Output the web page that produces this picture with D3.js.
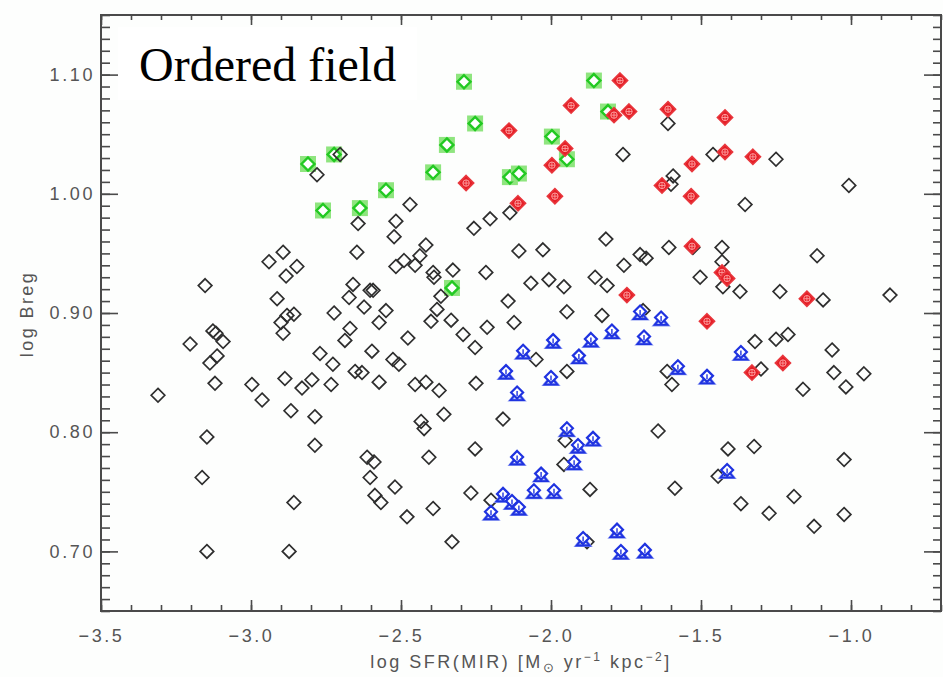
<!DOCTYPE html>
<html>
<head>
<meta charset="utf-8">
<script src="https://cdn.jsdelivr.net/npm/d3@7"></script>
<style>
  body { margin: 0; background: #fff; }
  svg { display: block; }
</style>
</head>
<body>
<div id="wrapper"></div>
<script>
// Data: [log SFR(MIR), log Breg]
const otherPoints = [
  [-3.31, 0.831], [-3.153, 0.923], [-3.203, 0.874], [-3.127, 0.885], [-3.117, 0.883],
  [-3.093, 0.876], [-3.113, 0.864], [-3.137, 0.858], [-3.12, 0.841], [-3.147, 0.796],
  [-3.163, 0.762], [-3.147, 0.700], [-2.997, 0.840], [-2.963, 0.827], [-2.94, 0.943],
  [-2.893, 0.951], [-2.847, 0.939], [-2.883, 0.931], [-2.913, 0.912], [-2.90, 0.892],
  [-2.88, 0.898], [-2.857, 0.899], [-2.893, 0.883], [-2.887, 0.845], [-2.867, 0.818],
  [-2.857, 0.741], [-2.873, 0.700], [-2.83, 0.837], [-2.797, 0.844], [-2.787, 0.813],
  [-2.787, 0.789], [-2.78, 1.016], [-2.77, 0.866], [-2.727, 0.857], [-2.733, 0.840],
  [-2.723, 0.900], [-2.703, 1.033], [-2.687, 0.877], [-2.67, 0.887], [-2.673, 0.913],
  [-2.66, 0.924], [-2.653, 0.851], [-2.63, 0.850], [-2.647, 0.951], [-2.643, 0.975],
  [-2.623, 0.905], [-2.603, 0.919], [-2.593, 0.919], [-2.597, 0.868], [-2.573, 0.892],
  [-2.573, 0.842], [-2.55, 0.902], [-2.613, 0.779], [-2.59, 0.775], [-2.603, 0.762],
  [-2.587, 0.747], [-2.567, 0.741], [-2.52, 0.754], [-2.527, 0.861], [-2.507, 0.857],
  [-2.523, 0.964], [-2.517, 0.977], [-2.517, 0.939], [-2.49, 0.944], [-2.47, 0.991],
  [-2.477, 0.879], [-2.48, 0.729], [-2.453, 0.840], [-2.453, 0.940], [-2.437, 0.948],
  [-2.417, 0.957], [-2.417, 0.842], [-2.393, 0.934], [-2.39, 0.930], [-2.40, 0.893],
  [-2.38, 0.903], [-2.373, 0.835], [-2.367, 0.914], [-2.357, 0.815], [-2.433, 0.809],
  [-2.423, 0.803], [-2.407, 0.779], [-2.393, 0.736], [-2.33, 0.708], [-2.327, 0.936],
  [-2.333, 0.894], [-2.293, 0.882], [-2.257, 0.971], [-2.253, 0.871], [-2.25, 0.841],
  [-2.253, 0.786], [-2.267, 0.749], [-2.217, 0.934], [-2.213, 0.888], [-2.203, 0.979],
  [-2.20, 0.743], [-2.16, 0.811], [-2.143, 0.910], [-2.137, 0.984], [-2.123, 0.892],
  [-2.107, 0.952], [-2.067, 0.925], [-2.05, 0.861], [-2.027, 0.953], [-2.007, 0.928],
  [-1.957, 0.922], [-1.947, 0.901], [-1.947, 0.851], [-1.953, 0.793], [-1.957, 0.773],
  [-1.88, 0.708], [-1.87, 0.752], [-1.853, 0.930], [-1.83, 0.898], [-1.817, 0.962],
  [-1.813, 0.923], [-1.76, 1.033], [-1.757, 0.940], [-1.703, 0.949], [-1.683, 0.946],
  [-1.693, 0.902], [-1.643, 0.801], [-1.613, 0.851], [-1.61, 1.059], [-1.607, 0.955],
  [-1.597, 0.840], [-1.593, 1.015], [-1.60, 1.008], [-1.587, 0.753], [-1.527, 0.955],
  [-1.503, 0.930], [-1.46, 1.033], [-1.443, 0.763], [-1.43, 0.955], [-1.43, 0.943],
  [-1.427, 0.922], [-1.41, 0.786], [-1.37, 0.918], [-1.367, 0.740], [-1.353, 0.991],
  [-1.323, 0.788], [-1.32, 0.876], [-1.30, 0.853], [-1.273, 0.732], [-1.25, 1.029],
  [-1.25, 0.878], [-1.237, 0.918], [-1.21, 0.882], [-1.19, 0.746], [-1.16, 0.836],
  [-1.123, 0.721], [-1.113, 0.948], [-1.093, 0.911], [-1.063, 0.869], [-1.057, 0.850],
  [-1.023, 0.777], [-1.023, 0.731], [-1.017, 0.838], [-1.007, 1.007], [-0.957, 0.849],
  [-0.87, 0.915]
];

const greenPoints = [
  [-2.81, 1.025], [-2.723, 1.033], [-2.76, 0.986], [-2.637, 0.988], [-2.55, 1.003],
  [-2.393, 1.018], [-2.347, 1.041], [-2.29, 1.094], [-2.253, 1.059], [-2.33, 0.921],
  [-1.857, 1.095], [-1.81, 1.069], [-1.997, 1.048], [-1.947, 1.029], [-2.137, 1.014],
  [-2.107, 1.017]
];

const redPoints = [
  [-1.77, 1.095], [-1.933, 1.074], [-1.74, 1.069], [-1.79, 1.066], [-1.61, 1.071],
  [-1.42, 1.064], [-2.14, 1.053], [-1.953, 1.038], [-1.997, 1.024], [-2.283, 1.009],
  [-2.11, 0.992], [-1.987, 0.998], [-1.42, 1.035], [-1.327, 1.031], [-1.53, 1.025],
  [-1.63, 1.007], [-1.533, 0.998], [-1.53, 0.956], [-1.43, 0.934], [-1.413, 0.929],
  [-1.747, 0.915], [-1.48, 0.893], [-1.147, 0.912], [-1.33, 0.850], [-1.227, 0.858]
];

const bluePoints = [
  [-2.20, 0.732], [-2.16, 0.747], [-2.15, 0.850], [-2.13, 0.741], [-2.113, 0.832],
  [-2.113, 0.778], [-2.107, 0.736], [-2.093, 0.867], [-2.057, 0.750], [-2.033, 0.764],
  [-2.00, 0.845], [-1.993, 0.876], [-1.99, 0.750], [-1.947, 0.802], [-1.923, 0.774],
  [-1.91, 0.788], [-1.907, 0.863], [-1.893, 0.710], [-1.867, 0.877], [-1.86, 0.794],
  [-1.797, 0.884], [-1.78, 0.717], [-1.767, 0.699], [-1.703, 0.900], [-1.69, 0.879],
  [-1.687, 0.700], [-1.633, 0.895], [-1.577, 0.854], [-1.48, 0.846], [-1.413, 0.767],
  [-1.367, 0.866]
];

const xMajorTicks = [-3.5, -3.0, -2.5, -2.0, -1.5, -1.0];
const yMajorTicks = [0.70, 0.80, 0.90, 1.00, 1.10];
const titleText = "Ordered field";
const yTitle = "log Breg";

const drawChart = () => {
    const dimensions = {
        width: 943,
        height: 677,
        left: 101,
        right: 941,
        top: 15,
        bottom: 611,
    };

    const wrapper = d3.select("#wrapper")
        .append("svg")
        .attr("width", dimensions.width)
        .attr("height", dimensions.height);

    wrapper.append("rect")
        .attr("width", dimensions.width)
        .attr("height", dimensions.height)
        .attr("fill", "#fdfefd");

    // Scales
    const xScale = d3.scaleLinear()
        .domain([-3.5, -0.7])
        .range([dimensions.left, dimensions.right]);
    const yScale = d3.scaleLinear()
        .domain([0.65, 1.15])
        .range([dimensions.bottom, dimensions.top]);

    const axisColor = "#4a4a4a";
    const labelFont = "'Liberation Sans', Arial, sans-serif";

    const styleAxis = (g) => {
        g.select(".domain").remove();
        g.selectAll(".tick line").attr("stroke", axisColor).attr("stroke-width", 1.6);
        g.selectAll(".tick text")
            .attr("fill", "#555")
            .style("font-family", labelFont)
            .style("font-size", "18px")
            .style("letter-spacing", "2.6px");
    };

    // Minor ticks (all four sides)
    const minorX = xScale.ticks(28);
    const minorY = yScale.ticks(50);
    wrapper.append("g")
        .attr("transform", `translate(0,${dimensions.bottom})`)
        .call(d3.axisBottom(xScale).tickValues(minorX).tickSize(-6).tickFormat(""))
        .call(styleAxis);
    wrapper.append("g")
        .attr("transform", `translate(0,${dimensions.top})`)
        .call(d3.axisTop(xScale).tickValues(minorX).tickSize(-5).tickFormat(""))
        .call(styleAxis);
    wrapper.append("g")
        .attr("transform", `translate(${dimensions.left},0)`)
        .call(d3.axisLeft(yScale).tickValues(minorY).tickSize(-9).tickFormat(""))
        .call(styleAxis);
    wrapper.append("g")
        .attr("transform", `translate(${dimensions.right},0)`)
        .call(d3.axisRight(yScale).tickValues(minorY).tickSize(-8).tickFormat(""))
        .call(styleAxis);

    // Major ticks
    wrapper.append("g")
        .attr("transform", `translate(0,${dimensions.bottom})`)
        .call(d3.axisBottom(xScale).tickValues(xMajorTicks).tickSize(-11).tickPadding(18)
            .tickFormat(d3.format(".1f")))
        .call(styleAxis);
    wrapper.append("g")
        .attr("transform", `translate(0,${dimensions.top})`)
        .call(d3.axisTop(xScale).tickValues(xMajorTicks).tickSize(-10).tickFormat(""))
        .call(styleAxis);
    wrapper.append("g")
        .attr("transform", `translate(${dimensions.left},0)`)
        .call(d3.axisLeft(yScale).tickValues(yMajorTicks).tickSize(-17).tickPadding(6)
            .tickFormat(d3.format(".2f")))
        .call(styleAxis);
    wrapper.append("g")
        .attr("transform", `translate(${dimensions.right},0)`)
        .call(d3.axisRight(yScale).tickValues(yMajorTicks).tickSize(-17).tickFormat(""))
        .call(styleAxis);

    // Frame
    wrapper.append("rect")
        .attr("x", dimensions.left)
        .attr("y", dimensions.top)
        .attr("width", dimensions.right - dimensions.left)
        .attr("height", dimensions.bottom - dimensions.top)
        .attr("fill", "none")
        .attr("stroke", axisColor)
        .attr("stroke-width", 2);

    // Title box
    wrapper.append("rect")
        .attr("x", 118).attr("y", 27)
        .attr("width", 299).attr("height", 73)
        .attr("fill", "#ffffff");
    wrapper.append("text")
        .attr("x", 139).attr("y", 81)
        .attr("fill", "#000")
        .style("font-family", "'Liberation Serif', 'Times New Roman', serif")
        .style("font-size", "48px")
        .text(titleText);

    // Markers
    const diamond = r => `M0,${-r}L${r},0L0,${r}L${-r},0Z`;
    const pos = d => `translate(${xScale(d[0])},${yScale(d[1])})`;

    // green: square with open diamond
    const green = wrapper.append("g").selectAll("g").data(greenPoints)
        .enter().append("g").attr("transform", pos);
    green.append("rect")
        .attr("x", -8).attr("y", -8).attr("width", 16).attr("height", 16)
        .attr("fill", "#8fe57f");
    green.append("path")
        .attr("d", diamond(6.5))
        .attr("fill", "#ffffff")
        .attr("stroke", "#22c922")
        .attr("stroke-width", 2.4);

    // other galaxies: open black diamonds
    wrapper.append("g").selectAll("path").data(otherPoints)
        .enter().append("path")
        .attr("transform", pos)
        .attr("d", diamond(6.8))
        .attr("fill", "none")
        .attr("stroke", "#2e2e2e")
        .attr("stroke-width", 1.7);

    // red: filled diamond with small light circle-cross
    const red = wrapper.append("g").selectAll("g").data(redPoints)
        .enter().append("g").attr("transform", pos);
    red.append("path")
        .attr("d", diamond(7.6))
        .attr("fill", "#e51e26")
        .attr("stroke", "#e8363c")
        .attr("stroke-width", 1.6);
    red.append("circle")
        .attr("r", 3.2)
        .attr("fill", "none")
        .attr("stroke", "#ffa8a8")
        .attr("stroke-width", 0.9);
    red.append("path")
        .attr("d", "M-3.2,0H3.2M0,-3.2V3.2")
        .attr("stroke", "#ffa8a8")
        .attr("stroke-width", 0.8);

    // blue: diamond over triangle
    const blue = wrapper.append("g").selectAll("g").data(bluePoints)
        .enter().append("g").attr("transform", pos);
    blue.append("path")
        .attr("d", "M0,-2L6.5,6L-6.5,6Z")
        .attr("fill", "none")
        .attr("stroke", "#8896f2")
        .attr("stroke-width", 3);
    blue.append("path")
        .attr("d", "M0,-2L6.5,6L-6.5,6Z")
        .attr("fill", "none")
        .attr("stroke", "#1f33e0")
        .attr("stroke-width", 1.8);
    blue.append("path")
        .attr("transform", "translate(0,-1.5)")
        .attr("d", diamond(6))
        .attr("fill", "#ffffff")
        .attr("stroke", "#1f33e0")
        .attr("stroke-width", 2.2);
    blue.append("path")
        .attr("d", "M0,-3V2")
        .attr("stroke", "#1f33e0")
        .attr("stroke-width", 1.4);

    // Axis titles
    const xTitle = wrapper.append("text")
        .attr("x", 521).attr("y", 668)
        .attr("text-anchor", "middle")
        .attr("fill", "#555")
        .style("font-family", labelFont)
        .style("font-size", "18px")
        .style("letter-spacing", "2.5px");
    xTitle.append("tspan").text("log SFR(MIR) [M");
    xTitle.append("tspan").attr("dy", 4).style("font-size", "13px").text("\u2299");
    xTitle.append("tspan").attr("dy", -4).text(" yr");
    xTitle.append("tspan").attr("dy", -7).style("font-size", "12px").text("\u22121");
    xTitle.append("tspan").attr("dy", 7).text(" kpc");
    xTitle.append("tspan").attr("dy", -7).style("font-size", "12px").text("\u22122");
    xTitle.append("tspan").attr("dy", 7).text("]");

    wrapper.append("text")
        .attr("transform", `translate(33,314) rotate(-90)`)
        .attr("text-anchor", "middle")
        .attr("fill", "#555")
        .style("font-family", labelFont)
        .style("font-size", "18px")
        .style("letter-spacing", "2.4px")
        .text(yTitle);
};
drawChart();
</script>
</body>
</html>
